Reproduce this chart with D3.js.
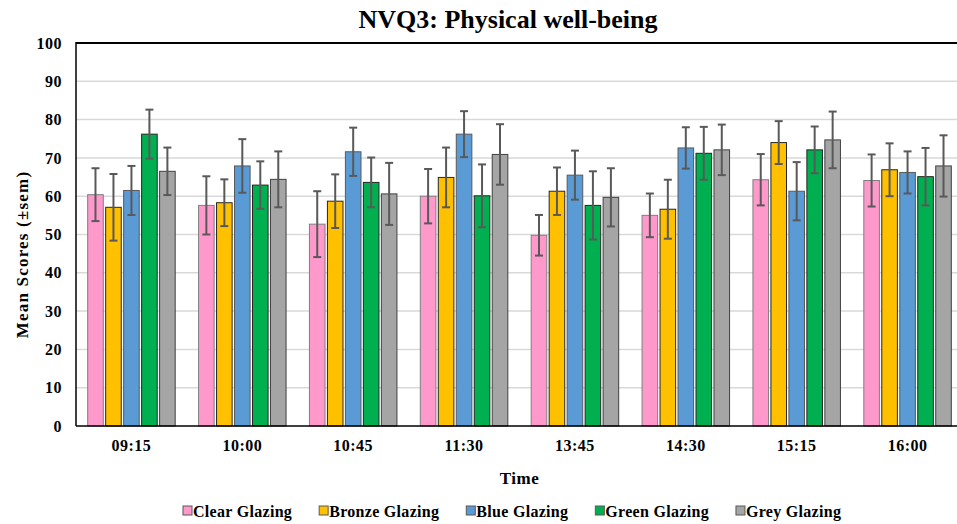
<!DOCTYPE html>
<html>
<head>
<meta charset="utf-8">
<script src="https://cdn.jsdelivr.net/npm/d3@7"></script>
<style>
  body { margin: 0; background: #fff; }
  svg text { font-family: "Liberation Serif", "Times New Roman", serif; font-weight: bold; fill: #000; }
</style>
</head>
<body>
<div id="chart"></div>
<script>
// NVQ3 physical well-being - grouped bars with sem error bars

const times = ['09:15', '10:00', '10:45', '11:30', '13:45', '14:30', '15:15', '16:00'];
const series = ['Clear Glazing', 'Bronze Glazing', 'Blue Glazing', 'Green Glazing', 'Grey Glazing'];
const yTicks = [0, 10, 20, 30, 40, 50, 60, 70, 80, 90, 100];

// mean scores per glazing, one value per time
const clearMean  = [60.4, 57.6, 52.7, 60.0, 49.8, 55.0, 64.3, 64.1];
const bronzeMean = [57.1, 58.3, 58.7, 64.9, 61.3, 56.6, 74.0, 66.9];
const blueMean   = [61.5, 67.9, 71.6, 76.2, 65.5, 72.6, 61.3, 66.2];
const greenMean  = [76.2, 62.9, 63.6, 60.1, 57.6, 71.2, 72.1, 65.1];
const greyMean   = [66.5, 64.4, 60.6, 70.9, 59.7, 72.1, 74.7, 67.9];

// standard error of the mean
const clearSem  = [6.9, 7.6, 8.6, 7.1, 5.3, 5.7, 6.7, 6.8];
const bronzeSem = [8.7, 6.1, 7.0, 7.8, 6.2, 7.7, 5.6, 6.9];
const blueSem   = [6.4, 7.0, 6.3, 6.0, 6.4, 5.4, 7.6, 5.5];
const greenSem  = [6.4, 6.2, 6.5, 8.2, 8.9, 6.9, 6.1, 7.5];
const greySem   = [6.2, 7.3, 8.1, 7.9, 7.6, 6.6, 7.4, 8.0];

const means = [clearMean, bronzeMean, blueMean, greenMean, greyMean];
const sems = [clearSem, bronzeSem, blueSem, greenSem, greySem];
const colors = ['#ff99cc', '#ffc000', '#5b9bd5', '#00b050', '#a5a5a5'];
const strokes = ['#7f7f7f', '#262626', '#595959', '#262626', '#404040'];

const width = 957;
const height = 524;
const margin = { top: 43, right: -6, bottom: 98, left: 76 };

const svg = d3.select('#chart')
  .append('svg')
  .attr('width', width)
  .attr('height', height);

const x0 = d3.scaleBand()
  .domain(times)
  .range([margin.left, width - margin.right]);

const x1 = d3.scaleBand()
  .domain(series)
  .range([0, x0.bandwidth()])
  .paddingInner(0.133)
  .paddingOuter(0.65);

const y = d3.scaleLinear()
  .domain([0, 100])
  .range([height - margin.bottom, margin.top]);

// gridlines
svg.append('g')
  .selectAll('line')
  .data(yTicks.filter(d => d > 0 && d < 100))
  .enter().append('line')
  .attr('x1', margin.left)
  .attr('x2', width)
  .attr('y1', d => y(d))
  .attr('y2', d => y(d))
  .attr('stroke', '#d9d9d9')
  .attr('stroke-width', 1.5);

// y axis labels
const yAxis = svg.append('g')
  .attr('transform', `translate(${margin.left},0)`)
  .call(d3.axisLeft(y).tickValues(yTicks).tickSize(0).tickPadding(14));
yAxis.select('.domain').remove();
yAxis.selectAll('text')
  .style('font-size', '16px')
  .style('letter-spacing', '0.5px')
  .style('font-family', '"Liberation Serif", serif')
  .style('font-weight', 'bold');

// bars
const rows = [];
times.forEach((t, i) => {
  series.forEach((s, j) => {
    rows.push({ time: t, series: s, idx: j, mean: means[j][i], sem: sems[j][i] });
  });
});

const bars = svg.append('g')
  .selectAll('g')
  .data(rows)
  .enter().append('g')
  .attr('transform', d => `translate(${x0(d.time) + x1(d.series)},0)`);

bars.append('rect')
  .attr('y', d => y(d.mean))
  .attr('width', x1.bandwidth())
  .attr('height', d => y(0) - y(d.mean))
  .attr('fill', d => colors[d.idx])
  .attr('stroke', d => strokes[d.idx])
  .attr('stroke-width', 1);

// error bars
const cx = x1.bandwidth() / 2;
bars.append('line')
  .attr('x1', cx).attr('x2', cx)
  .attr('y1', d => y(d.mean + d.sem))
  .attr('y2', d => y(d.mean - d.sem))
  .attr('stroke', '#595959')
  .attr('stroke-width', 2);
bars.selectAll('line.cap')
  .data(d => [d.mean + d.sem, d.mean - d.sem])
  .enter().append('line')
  .attr('class', 'cap')
  .attr('x1', cx - 4).attr('x2', cx + 4)
  .attr('y1', d => y(d)).attr('y2', d => y(d))
  .attr('stroke', '#595959')
  .attr('stroke-width', 2);

// axes frame
svg.append('line')
  .attr('x1', margin.left).attr('x2', width)
  .attr('y1', y(100)).attr('y2', y(100))
  .attr('stroke', '#000').attr('stroke-width', 2);
svg.append('line')
  .attr('x1', margin.left).attr('x2', margin.left)
  .attr('y1', y(100) - 1).attr('y2', y(0))
  .attr('stroke', '#000').attr('stroke-width', 1.5);
svg.append('line')
  .attr('x1', margin.left).attr('x2', width)
  .attr('y1', y(0)).attr('y2', y(0))
  .attr('stroke', '#000').attr('stroke-width', 1.5);

// x axis labels
const xAxis = svg.append('g')
  .attr('transform', `translate(0,${y(0)})`)
  .call(d3.axisBottom(x0).tickSize(0).tickPadding(14));
xAxis.select('.domain').remove();
xAxis.selectAll('text')
  .style('font-size', '16px')
  .style('letter-spacing', '0.5px')
  .style('font-family', '"Liberation Serif", serif')
  .style('font-weight', 'bold');

// titles
svg.append('text')
  .attr('x', 508)
  .attr('y', 28)
  .attr('text-anchor', 'middle')
  .style('font-size', '26px')
  .text('NVQ3: Physical well-being');

svg.append('text')
  .attr('x', (margin.left + width - margin.right) / 2)
  .attr('y', 484)
  .attr('text-anchor', 'middle')
  .style('font-size', '17px')
  .style('letter-spacing', '0.5px')
  .text('Time');

svg.append('text')
  .attr('transform', `translate(28,${(y(0) + y(100)) / 2 + 20}) rotate(-90)`)
  .attr('text-anchor', 'middle')
  .style('font-size', '17px')
  .style('letter-spacing', '1.2px')
  .text('Mean Scores (±sem)');

// legend
const legend = svg.append('g').attr('transform', 'translate(183,511)');
let lx = 0;
series.forEach((s, j) => {
  const item = legend.append('g').attr('transform', `translate(${lx},0)`);
  item.append('rect')
    .attr('x', 0).attr('y', -5)
    .attr('width', 9).attr('height', 9)
    .attr('fill', colors[j])
    .attr('stroke', '#595959')
    .attr('stroke-width', 1);
  const t = item.append('text')
    .attr('x', 10)
    .attr('y', 6)
    .style('font-size', '16px')
    .style('letter-spacing', '0.3px')
    .text(s);
  lx += 10 + t.node().getComputedTextLength() + 27;
});
</script>
</body>
</html>
